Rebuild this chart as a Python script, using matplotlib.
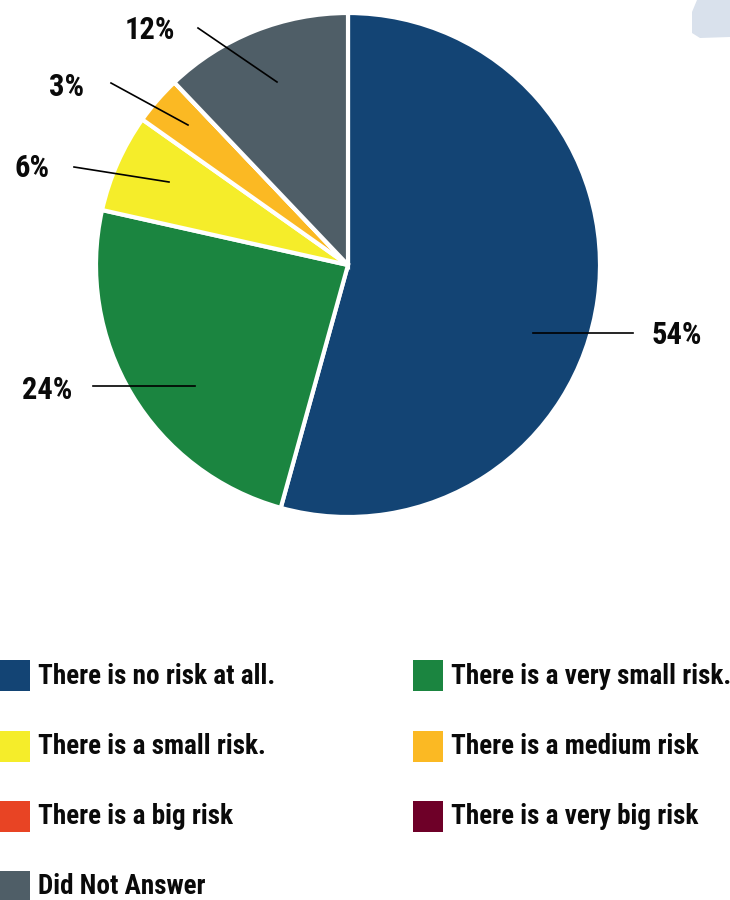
import matplotlib
matplotlib.use("Agg")
import matplotlib.pyplot as plt
from matplotlib import font_manager
from matplotlib.patches import Rectangle, Polygon

names = {f.name for f in font_manager.fontManager.ttflist}
cands = ['Roboto Condensed', 'Liberation Sans Narrow', 'Lato', 'Noto Sans']
FONT = next((c for c in cands if c in names), 'DejaVu Sans')

categories = ["There is no risk at all.", "There is a very small risk.",
              "There is a small risk.", "There is a medium risk",
              "There is a big risk", "There is a very big risk",
              "Did Not Answer"]
values = [54.3, 24.2, 6.3, 3.1, 0.0, 0.0, 12.1]
colors = ["#134474", "#1b8540", "#f5ed2a", "#fbb923", "#e84424", "#6e0028", "#4f5e67"]

W, H = 730, 900
fig = plt.figure(figsize=(W / 100, H / 100), dpi=100)
ax = fig.add_axes([0, 0, 1, 1])

cx, cy, R = 348, H - 265, 252
wedges, _ = ax.pie(values, colors=colors, startangle=90, counterclock=False,
                   center=(cx, cy), radius=R,
                   wedgeprops=dict(edgecolor='white', linewidth=3))
ax.set_xlim(0, W)
ax.set_ylim(0, H)
ax.set_aspect('equal')
ax.axis('off')

# label annotations: (inner point, outer point, text centre) in pixel coords (top-left origin)
ann = {0: ((533, 333), (633, 333), (677, 335)),
       1: ((195, 386), (93, 386), (47, 390)),
       2: ((169, 182), (74, 167), (32, 168)),
       3: ((188, 125), (111, 83), (67, 87)),
       6: ((277, 82), (198, 28), (150, 30))}
for i, (p_in, p_out, p_txt) in ann.items():
    ax.plot([p_in[0], p_out[0]], [H - p_in[1], H - p_out[1]], color='black', lw=1.2)
    ax.text(p_txt[0], H - p_txt[1], f"{round(values[i])}%", ha='center', va='center',
            fontsize=22, fontweight='bold', family=FONT, color='#0a0a0a')

# decorative shape top-right
ax.add_patch(Polygon([(697, H - 0), (730, H - 0), (730, H - 37), (700, H - 38), (692, H - 33), (692, H - 12)],
                     closed=True, facecolor='#d9e1ec', edgecolor='none'))

# legend
rows_y = [676, 747, 817, 887]
cols_x = [0, 413]
for k, (lab, col) in enumerate(zip(categories, colors)):
    r, c = divmod(k, 2)
    x0 = cols_x[c]
    yc = rows_y[r]
    ax.add_patch(Rectangle((x0, H - yc - 15), 30, 31, facecolor=col, edgecolor='none'))
    ax.text(x0 + 38, H - yc, lab, ha='left', va='center', fontsize=19.5,
            fontweight='bold', family=FONT, color='#0a0a0a')

fig.savefig("out.png", dpi=100)
